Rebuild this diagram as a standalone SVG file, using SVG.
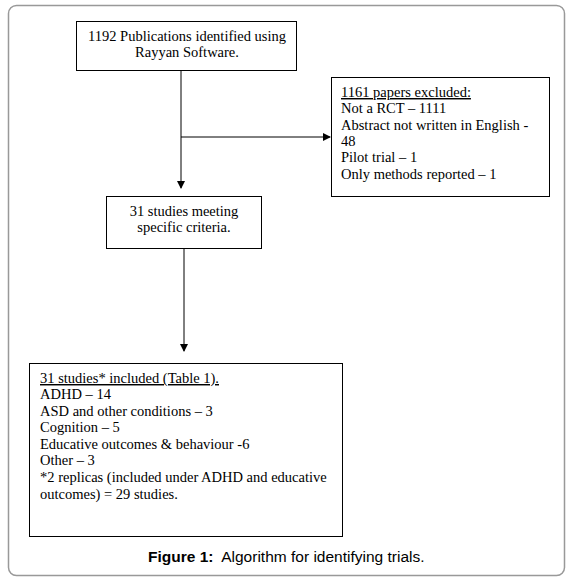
<svg xmlns="http://www.w3.org/2000/svg" width="573" height="581" viewBox="0 0 573 581">
<style>
.box{fill:#fff;stroke:#000;stroke-width:1}
.t{font-family:"Liberation Serif","Times New Roman",serif;font-size:14.5px;fill:#000}
.c{text-anchor:middle}
.ln{stroke:#000;stroke-width:1;fill:none}
.cap{font-family:"Liberation Sans",Arial,sans-serif;font-size:15.5px;fill:#000}
</style>
<defs>
<marker id="ah" markerWidth="8" markerHeight="8" refX="7" refY="4" orient="auto" markerUnits="userSpaceOnUse">
<path d="M0,0 L8,4 L0,8 z" fill="#000"/>
</marker>
</defs>
<rect x="8.5" y="5.5" width="556" height="570" rx="8" fill="#fff" stroke="#999" stroke-width="1.5"/>
<g id="connectors">
<line class="ln" x1="181" y1="71" x2="181" y2="188" marker-end="url(#ah)"/>
<line class="ln" x1="181" y1="137" x2="330" y2="137" marker-end="url(#ah)"/>
<line class="ln" x1="184" y1="248" x2="184" y2="351" marker-end="url(#ah)"/>
</g>
<g id="n1">
<rect class="box" x="76.5" y="21.5" width="220" height="49"/>
<text class="t c" x="187" y="41">1192 Publications identified using</text>
<text class="t c" x="187" y="57">Rayyan Software.</text>
</g>
<g id="n2">
<rect class="box" x="331.5" y="77.5" width="218" height="119" stroke="#333"/>
<text class="t" x="341" y="97" text-decoration="underline">1161 papers excluded:</text>
<text class="t" x="341" y="113">Not a RCT – 1111</text>
<text class="t" x="341" y="130">Abstract not written in English -</text>
<text class="t" x="341" y="146">48</text>
<text class="t" x="341" y="162">Pilot trial – 1</text>
<text class="t" x="341" y="179">Only methods reported – 1</text>
</g>
<g id="n3">
<rect class="box" x="106.5" y="196.5" width="155" height="52"/>
<text class="t c" x="184" y="216">31 studies meeting</text>
<text class="t c" x="184" y="232">specific criteria.</text>
</g>
<g id="n4">
<rect class="box" x="29.5" y="363.5" width="313" height="173"/>
<text class="t" x="40" y="383" text-decoration="underline">31 studies* included (Table 1).</text>
<text class="t" x="40" y="399">ADHD – 14</text>
<text class="t" x="40" y="416">ASD and other conditions – 3</text>
<text class="t" x="40" y="432">Cognition – 5</text>
<text class="t" x="40" y="449">Educative outcomes &amp; behaviour -6</text>
<text class="t" x="40" y="465">Other – 3</text>
<text class="t" x="40" y="482">*2 replicas (included under ADHD and educative</text>
<text class="t" x="40" y="499">outcomes) = 29 studies.</text>
</g>
<text class="cap" x="148" y="562" xml:space="preserve"><tspan font-weight="bold">Figure 1:</tspan>  Algorithm for identifying trials.</text>
</svg>
